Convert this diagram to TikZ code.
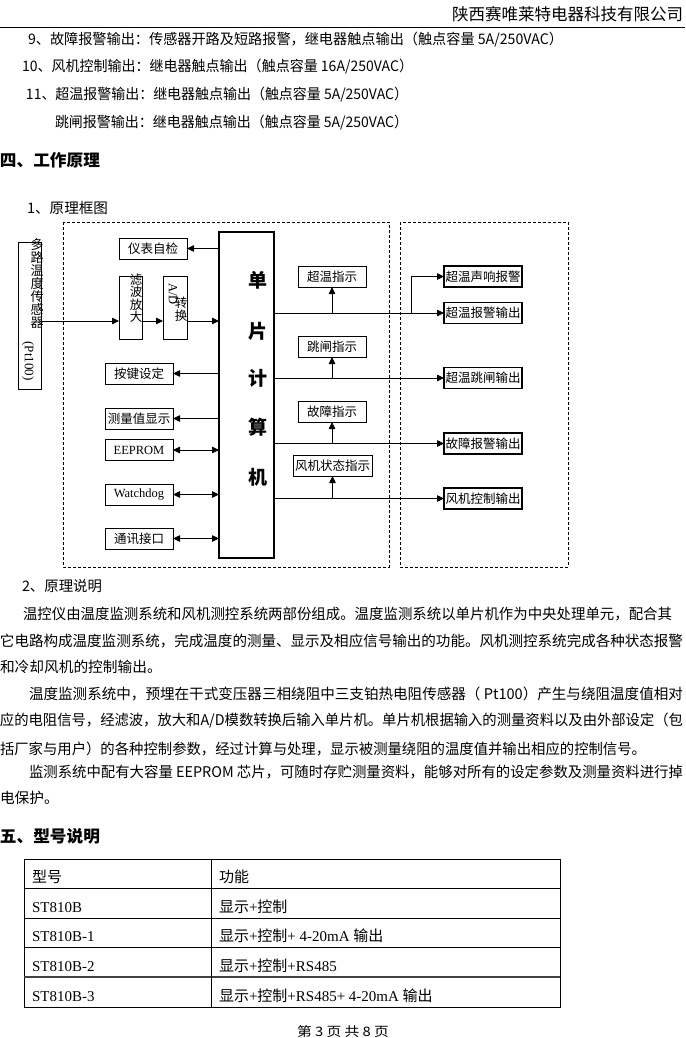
\documentclass[tikz,border=0pt]{standalone}
\usepackage{fontspec}
\usepackage{graphicx}
\setmainfont{Liberation Serif}
\newfontfamily\cjk{Noto Sans CJK SC}
\usetikzlibrary{arrows.meta}
\newcommand\fitline[5]{\node[txt] (#1) at (#2,#3) {\resizebox{#4pt}{\height}{#5}};}
\newcommand\natline[4]{\node[txt] (#1) at (#2,#3) {#4};}
\begin{document}
\begin{tikzpicture}[x=1pt,y=-1pt,
  every node/.style={inner sep=0pt,outer sep=0pt},
  txt/.style={anchor=west,font=\cjk\fontsize{14.5pt}{14.5pt}\selectfont},
  ptxt/.style={txt,font=\cjk\fontsize{14.7pt}{14.7pt}\selectfont},
  head/.style={txt,font=\cjk\bfseries\fontsize{16.5pt}{16.5pt}\selectfont},
  bx/.style={draw,line width=0.8pt,minimum width=68pt,minimum height=21pt,font=\cjk\fontsize{12.5pt}{12.5pt}\selectfont},
  ox/.style={bx,line width=1.4pt,minimum width=78pt},
  vt/.style={font=\cjk\fontsize{13pt}{13pt}\selectfont,align=center},
  vs/.style={font=\cjk\fontsize{12.5pt}{12.5pt}\selectfont,align=center},
  mc/.style={font=\cjk\bfseries\fontsize{19pt}{19pt}\selectfont},
  arr/.style={line width=0.8pt,-{Triangle[length=7pt,width=6.5pt]}},
  darr/.style={line width=0.8pt,{Triangle[length=7pt,width=6.5pt]}-{Triangle[length=7pt,width=6.5pt]}},
  dbox/.style={draw,line width=0.8pt,dash pattern=on 3pt off 2pt},
  tb/.style={anchor=base west,font=\rmfamily\fontsize{15pt}{15pt}\selectfont},
]
\useasboundingbox[fill=white] (0,0) rectangle (685,1038);

% header
\node[txt,font=\cjk\fontsize{16.5pt}{16.5pt}\selectfont] (hdr) at (452,14) {\resizebox{231pt}{\height}{陕西赛唯莱特电器科技有限公司}};
\draw[line width=1pt] (0,27.5) -- (685,27.5);

% items
\fitline{i9}{28}{40}{535}{9、故障报警输出：传感器开路及短路报警，继电器触点输出（触点容量 5A/250VAC）}
\fitline{i10}{22}{67}{391}{10、风机控制输出：继电器触点输出（触点容量 16A/250VAC）}
\fitline{i11}{26}{95}{382}{11、超温报警输出：继电器触点输出（触点容量 5A/250VAC）}
\fitline{i12}{55}{123}{353}{跳闸报警输出：继电器触点输出（触点容量 5A/250VAC）}

\node[head] (h4) at (0,160) {\resizebox{100pt}{\height}{四、工作原理}};
\fitline{s1}{27}{208}{81}{1、原理框图}

% dashed frames
\draw[dbox] (63,222) rectangle (389,567);
\draw[dbox] (400,222) rectangle (568,567);

% MCU
\node[draw,line width=2.5pt,minimum width=55pt,minimum height=326pt] (mcu) at (246.5,395) {};
\node[mc] (m1) at (257.5,280) {单};
\node[mc] (m2) at (257.5,331) {片};
\node[mc] (m3) at (257.5,378) {计};
\node[mc] (m4) at (257.5,427) {算};
\node[mc] (m5) at (257.5,477) {机};

% sensor and input chain
\node[draw,line width=0.8pt,minimum width=23pt,minimum height=147pt] (sensor) at (29.5,315.5) {};
\node[vt] (sensortxt) at (37,283.5) {多\\路\\温\\度\\传\\感\\器};
\node[font=\rmfamily\fontsize{13pt}{13pt}\selectfont,rotate=-90] (pt) at (28,361) {(Pt100)};
\node[draw,line width=0.8pt,minimum width=23pt,minimum height=63pt] (lb) at (130.5,307.5) {};
\node[vs] (lbt) at (136,298) {滤\\波\\放\\大};
\node[draw,line width=0.8pt,minimum width=24pt,minimum height=63pt] (ad) at (175,307.5) {};
\node[font=\rmfamily\fontsize{12.5pt}{12.5pt}\selectfont,rotate=-90] (adt) at (173,294) {A/D};
\node[vs] (zht) at (181,309.5) {转\\换};
\coordinate (iny) at (0,321);
\draw[arr] (sensor.east |- iny) -- (lb.west |- iny);
\draw[arr] (lb.east |- iny) -- (ad.west |- iny);
\draw[arr] (ad.east |- iny) -- (mcu.west |- iny);

% left boxes
\node[bx] (zj) at (153,248.5) {仪表自检};
\node[bx] (aj) at (139,373.5) {按键设定};
\node[bx] (cl) at (139,418.5) {测量值显示};
\node[bx] (ee) at (139,450) {\rmfamily EEPROM};
\node[bx] (wd) at (139,494.5) {\rmfamily Watchdog};
\node[bx] (tx) at (139,538.5) {通讯接口};
\draw[arr] (mcu.west |- zj.east) -- (zj.east);
\draw[arr] (mcu.west |- aj.east) -- (aj.east);
\draw[arr] (mcu.west |- cl.east) -- (cl.east);
\draw[darr] (ee.east) -- (mcu.west |- ee.east);
\draw[darr] (wd.east) -- (mcu.west |- wd.east);
\draw[darr] (tx.east) -- (mcu.west |- tx.east);

% indicators
\node[bx] (ind1) at (332,276.5) {超温指示};
\node[bx] (ind2) at (332,346.5) {跳闸指示};
\node[bx] (ind3) at (332,411.5) {故障指示};
\node[bx,minimum width=79pt] (ind4) at (332.5,465.5) {风机状态指示};

% outputs
\node[ox] (out0) at (483,276.5) {超温声响报警};
\node[ox] (out1) at (483,313) {超温报警输出};
\node[ox] (out2) at (483,378) {超温跳闸输出};
\node[ox] (out3) at (483,443.5) {故障报警输出};
\node[ox] (out4) at (483,498.5) {风机控制输出};
\draw[arr] (mcu.east |- out1.west) -- (out1.west);
\draw[arr] (mcu.east |- out2.west) -- (out2.west);
\draw[arr] (mcu.east |- out3.west) -- (out3.west);
\draw[arr] (mcu.east |- out4.west) -- (out4.west);
\draw[arr] (ind1.south |- out1.west) -- (ind1.south);
\draw[arr] (ind2.south |- out2.west) -- (ind2.south);
\draw[arr] (ind3.south |- out3.west) -- (ind3.south);
\draw[arr] (ind4.south |- out4.west) -- (ind4.south);
\coordinate (br) at (411,0);
\draw[arr] (br |- out1.west) |- (out0.west);

% explanation
\fitline{s2}{22}{586}{80}{2、原理说明}
\node[ptxt] (p1a) at (23,614) {\resizebox{649pt}{\height}{温控仪由温度监测系统和风机测控系统两部份组成。温度监测系统以单片机作为中央处理单元，配合其}};
\node[ptxt] (p1b) at (0,641) {\resizebox{683pt}{\height}{它电路构成温度监测系统，完成温度的测量、显示及相应信号输出的功能。风机测控系统完成各种状态报警}};
\node[ptxt] (p1c) at (0,667) {和冷却风机的控制输出。};
\node[ptxt] (p2a) at (29,694) {\resizebox{654pt}{\height}{温度监测系统中，预埋在干式变压器三相绕阻中三支铂热电阻传感器（ Pt100）产生与绕阻温度值相对}};
\node[ptxt] (p2b) at (0,721) {\resizebox{683pt}{\height}{应的电阻信号，经滤波，放大和A/D模数转换后输入单片机。单片机根据输入的测量资料以及由外部设定（包}};
\node[ptxt] (p2c) at (0,749) {\resizebox{646pt}{\height}{括厂家与用户）的各种控制参数，经过计算与处理，显示被测量绕阻的温度值并输出相应的控制信号。}};
\node[ptxt] (p3a) at (29,772) {\resizebox{654pt}{\height}{监测系统中配有大容量 EEPROM 芯片，可随时存贮测量资料，能够对所有的设定参数及测量资料进行掉}};
\node[ptxt] (p3b) at (0,798) {电保护。};

\node[head] (h5) at (0,836) {\resizebox{100pt}{\height}{五、型号说明}};

% table
\draw[line width=0.9pt] (24,859) rectangle (560,1007);
\draw[line width=0.9pt] (24,888) -- (560,888);
\draw[line width=0.9pt] (24,918) -- (560,918);
\draw[line width=0.9pt] (24,947.5) -- (560,947.5);
\draw[line width=1.5pt,black!75] (24,977) -- (560,977);
\draw[line width=0.9pt] (211,859) -- (211,1007);
\node[tb] (t1a) at (32,882) {{\cjk 型号}};
\node[tb] (t1b) at (219,882) {{\cjk 功能}};
\node[tb] (t2a) at (32,912) {ST810B};
\node[tb] (t2b) at (219,912) {{\cjk 显示}+{\cjk 控制}};
\node[tb] (t3a) at (32,941.5) {ST810B-1};
\node[tb] (t3b) at (219,941.5) {{\cjk 显示}+{\cjk 控制}+ 4-20mA {\cjk 输出}};
\node[tb] (t4a) at (32,971) {ST810B-2};
\node[tb] (t4b) at (219,971) {{\cjk 显示}+{\cjk 控制}+RS485};
\node[tb] (t5a) at (32,1001) {ST810B-3};
\node[tb] (t5b) at (219,1001) {{\cjk 显示}+{\cjk 控制}+RS485+ 4-20mA {\cjk 输出}};

% footer
\node[txt,font=\cjk\fontsize{13pt}{13pt}\selectfont] (ft) at (297,1032) {\resizebox{92pt}{\height}{第 3 页 共 8 页}};
\end{tikzpicture}
\end{document}
